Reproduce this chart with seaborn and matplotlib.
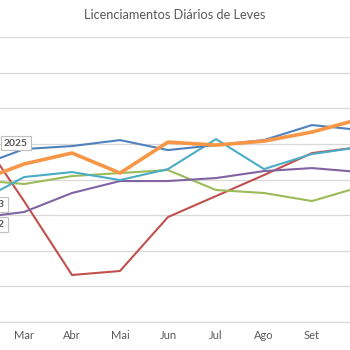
import numpy as np
import pandas as pd
import seaborn as sns
import matplotlib.pyplot as plt

months = ["Fev", "Mar", "Abr", "Mai", "Jun", "Jul", "Ago", "Set", "Out"]
y2020 = [7695, 6698, 5660, 5716, 6474, 6768, 7063, 7372, 7456]
y2021 = [6993, 6937, 7049, 7091, 7133, 6853, 6811, 6698, 6895]
y2022 = [6460, 6544, 6811, 6979, 6979, 7021, 7119, 7161, 7105]
y2023 = [6670, 7035, 7105, 6993, 7147, 7568, 7147, 7358, 7456]
y2024 = [7175, 7428, 7470, 7554, 7414, 7484, 7554, 7765, 7695]
y2025 = [6965, 7218, 7372, 7091, 7526, 7484, 7540, 7667, 7849]

series = {"2020": y2020, "2021": y2021, "2022": y2022,
          "2023": y2023, "2024": y2024, "2025": y2025}
colors = {"2020": "#C0504D", "2021": "#9BBB59", "2022": "#8064A2",
          "2023": "#4BACC6", "2024": "#4F81BD", "2025": "#F79646"}
widths = {"2020": 1.5, "2021": 1.5, "2022": 1.5, "2023": 1.5, "2024": 1.5, "2025": 2.6}

rows = []
for yr, vals in series.items():
    for i, (m, v) in enumerate(zip(months, vals)):
        rows.append({"year": yr, "pos": i + 1, "month": m, "value": v})
df = pd.DataFrame(rows)

sns.set_theme(style="white")
plt.rcParams['font.family'] = ['Lato', 'DejaVu Sans']

fig = plt.figure(figsize=(3.5, 3.5), dpi=100)
ax = fig.add_axes([0, 0.08, 1, 0.814])

for yr in ["2020", "2021", "2022", "2023", "2024", "2025"]:
    sns.lineplot(data=df[df.year == yr], x="pos", y="value", color=colors[yr],
                 linewidth=widths[yr], ax=ax, legend=False)

ax.set_yticks(np.arange(5000, 9001, 500))
ax.set_yticklabels([])
ax.tick_params(axis='y', length=0)
ax.grid(axis='y', color='#D9D9D9', linewidth=0.9)
ax.set_axisbelow(True)
ax.set_xticks(range(1, len(months) + 1))
ax.set_xticklabels(months, fontsize=8, color='#595959')
ax.tick_params(axis='x', length=0, pad=6)
ax.set_xlim(1.5, 2 + 326 / 48)
ax.set_ylim(5000, 9000)
for s in ['top', 'left', 'right']:
    ax.spines[s].set_visible(False)
ax.spines['bottom'].set_color('#D9D9D9')
ax.spines['bottom'].set_linewidth(0.9)
ax.set_xlabel("")
ax.set_ylabel("")

box = dict(boxstyle='square,pad=0.25', facecolor='white', edgecolor='#BFBFBF', linewidth=0.8)
ax.text(1.833, 7512, "2025", fontsize=7.5, fontweight='bold', color='#595959',
        ha='center', va='center', bbox=box, zorder=5)
ax.text(1.604, 6649, "2023", fontsize=7.5, fontweight='bold', color='#595959',
        ha='right', va='center', bbox=box, zorder=5)
ax.text(1.604, 6368, "2022", fontsize=7.5, fontweight='bold', color='#595959',
        ha='right', va='center', bbox=box, zorder=5)

fig.text(0.5, 1 - 15 / 350, "Licenciamentos Diários de Leves", fontsize=9.2,
         color='#595959', ha='center', va='center')

fig.savefig("out.png", dpi=100)
